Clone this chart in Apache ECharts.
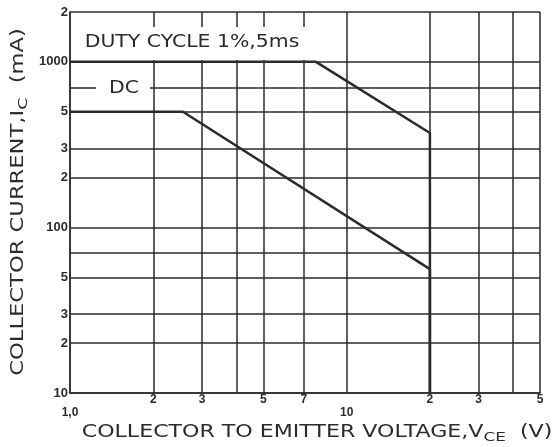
<!DOCTYPE html>
<html>
<head>
<meta charset="utf-8">
<script src="https://cdn.jsdelivr.net/npm/echarts@6/dist/echarts.min.js"></script>
<style>
html,body{margin:0;padding:0;background:#fff;}
#chart{width:555px;height:447px;}
</style>
</head>
<body>
<div id="chart"></div>
<script>
// grid positions on the log-log paper
var xGrid = [1, 2, 3, 4, 5, 7, 10, 20, 30, 40, 50];
var xLabels = [1, 2, 3, 5, 7, 10, 20, 30, 50];
var yGrid = [10, 20, 30, 50, 70, 100, 200, 300, 500, 700, 1000, 2000];
var yLabels = [10, 20, 30, 50, 100, 200, 300, 500, 1000, 2000];

// safe operating area curves
var pulseV = [1, 7.75, 20, 20];
var pulseI = [1000, 1000, 372, 10];
var dcV = [1, 2.56, 20, 20];
var dcI = [500, 500, 56, 10];

function pairs(xs, ys){
	var out = [];
	for (var i = 0; i < xs.length; i++) out.push([xs[i], ys[i]]);
	return out;
}

var ink = '#2b2b2b';
var font = 'DejaVu Sans';
var tickFont = 'Liberation Sans';
var subRich = {s: {font: '13px "DejaVu Sans"', fill: ink, verticalAlign: 'bottom', padding: [9, 0, 0, 0]}};

// wide geometric lettering of the original, stretched horizontally
function title(text, x, y, rot, sx, extra){
	var st = {
		text: text, fill: ink, font: '17px "DejaVu Sans"',
		align: 'center', verticalAlign: 'middle', rich: subRich
	};
	if (extra) for (var k in extra) st[k] = extra[k];
	return {type: 'text', x: x, y: y, rotation: rot, scaleX: sx, z: 10, style: st};
}

var chart = echarts.init(document.getElementById('chart'));
var option = {
	backgroundColor: '#fff',
	animation: false,
	grid: {left: 70, top: 12, right: 15, bottom: 54},
	xAxis: {
		type: 'log',
		logBase: 10,
		min: 1,
		max: 50,
		axisLine: {lineStyle: {color: ink, width: 1.5}},
		axisTick: {show: false, customValues: xGrid},
		splitLine: {show: true, lineStyle: {color: ink, width: 1.5}},
		axisLabel: {
			customValues: xLabels,
			margin: 1,
			color: ink,
			fontFamily: tickFont,
			fontWeight: 'bold',
			fontSize: 12,
			formatter: function(v){
				if (v === 1) return '{lo|1,0}';
				if (v === 10) return '{lo|10}';
				return String(v).charAt(0);
			},
			rich: {lo: {padding: [13, 0, 0, 0], fontSize: 12, fontWeight: 'bold', fontFamily: tickFont, color: ink}}
		}
	},
	yAxis: {
		type: 'log',
		logBase: 10,
		min: 10,
		max: 2000,
		axisLine: {lineStyle: {color: ink, width: 1.5}},
		axisTick: {show: false, customValues: yGrid},
		splitLine: {show: true, lineStyle: {color: ink, width: 1.5}},
		axisLabel: {
			customValues: yLabels,
			margin: 2,
			color: ink,
			fontFamily: tickFont,
			fontWeight: 'bold',
			fontSize: 13,
			formatter: function(v){
				if (v === 10 || v === 100 || v === 1000) return String(v);
				return String(v).charAt(0);
			}
		}
	},
	graphic: [
		title('COLLECTOR TO EMITTER VOLTAGE,V{s|CE}  (V)', 317, 433, 0, 1.3),
		title('COLLECTOR CURRENT,I{s|C}  (mA)', 19, 202, Math.PI / 2, 1.33),
		{
			type: 'rect', shape: {x: 72, y: 27, width: 233, height: 33}, z: 9,
			style: {fill: '#fff'}
		},
		title('DUTY CYCLE 1%,5ms', 192, 43, 0, 1.2),
		{
			type: 'rect', shape: {x: 96, y: 77, width: 54, height: 22}, z: 9,
			style: {fill: '#fff'}
		},
		title('DC', 124, 89, 0, 1.2)
	],
	series: [
		{
			name: 'DUTY CYCLE 1%,5ms',
			type: 'line',
			data: pairs(pulseV, pulseI),
			symbol: 'none',
			lineStyle: {color: ink, width: 2.5},
			z: 5
		},
		{
			name: 'DC',
			type: 'line',
			data: pairs(dcV, dcI),
			symbol: 'none',
			lineStyle: {color: ink, width: 2.5},
			z: 5
		}
	]
};
chart.setOption(option);
</script>
</body>
</html>
